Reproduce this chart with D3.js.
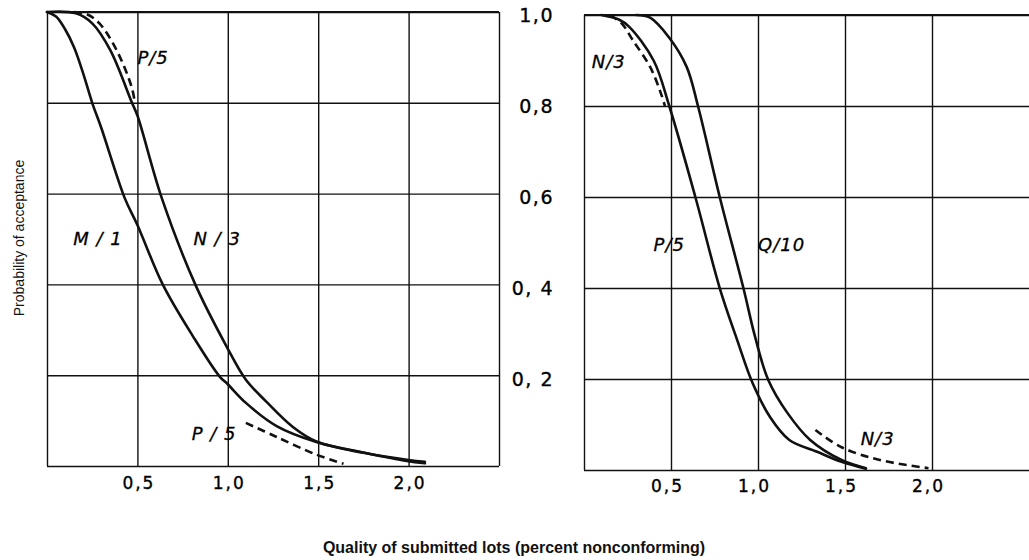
<!DOCTYPE html>
<html>
<head>
<meta charset="utf-8">
<script src="https://cdn.jsdelivr.net/npm/d3@7/dist/d3.min.js"></script>
<style>
  html, body { margin: 0; padding: 0; background: #fff; }
  svg { display: block; }
  .grid line { stroke: #111; stroke-width: 1.4; }
  .grid path { display: none; }
  .tick-lbl text { font-family: "DejaVu Sans", sans-serif; fill: #000; stroke: #000; stroke-width: 0.35px; }
  .curve { fill: none; stroke: #111; stroke-width: 2.6; stroke-linejoin: round; stroke-linecap: round; }
  .dashed { stroke-dasharray: 8 5; stroke-linecap: butt; }
  .clabel { font-family: "DejaVu Sans", sans-serif; font-style: italic; font-size: 18px; letter-spacing: 1px; fill: #000; stroke: #000; stroke-width: 0.3px; }
</style>
</head>
<body>
<svg id="chart" width="1029" height="560"></svg>
<script>
// Operating characteristic curves: probability of acceptance vs. percent nonconforming

// Shared tick values
const xGridLeft = [0, 0.5, 1.0, 1.5, 2.0, 2.5];
const xGridRight = [0, 0.5, 1.0, 1.5, 2.0];
const yGrid = [0, 0.2, 0.4, 0.6, 0.8, 1.0];
const xTickLabelsLeft = [0.5, 1.0, 1.5, 2.0];
const xTickLabelsRight = [0.5, 1.0, 1.5, 2.0];
const yTickValues = [0.2, 0.4, 0.6, 0.8, 1.0];
const yTickLabels = ["0, 2", "0, 4", "0,6", "0,8", "1,0"];

// Left panel curves: [percent nonconforming, probability of acceptance]
const leftM1 = [[0, 1.0], [0.05, 0.99], [0.1, 0.962], [0.15, 0.922], [0.2, 0.865], [0.25, 0.80], [0.3, 0.745],
  [0.43, 0.59], [0.5, 0.531], [0.64, 0.40], [0.81, 0.284], [0.955, 0.197], [1.0, 0.18], [1.1, 0.139],
  [1.27, 0.088], [1.49, 0.053], [1.77, 0.028], [1.99, 0.011], [2.09, 0.006]];
const leftN3 = [[0, 1.0], [0.16, 0.997], [0.25, 0.975], [0.35, 0.916], [0.47, 0.80], [0.5, 0.772],
  [0.635, 0.59], [0.82, 0.40], [0.995, 0.262], [1.1, 0.19], [1.21, 0.143], [1.36, 0.086],
  [1.49, 0.054], [1.75, 0.029], [2.0, 0.013], [2.09, 0.009]];
const leftP5Upper = [[0.15, 1.0], [0.22, 0.995], [0.29, 0.975], [0.385, 0.916], [0.468, 0.835], [0.486, 0.80]];
const leftP5Lower = [[1.1, 0.095], [1.27, 0.064], [1.49, 0.025], [1.64, 0.005]];

// Right panel curves
const rightP5 = [[0.1, 1.0], [0.2, 0.99], [0.26, 0.974], [0.4, 0.90], [0.49, 0.80], [0.64, 0.60],
  [0.78, 0.40], [0.88, 0.286], [0.97, 0.19], [1.07, 0.116], [1.18, 0.066], [1.34, 0.04],
  [1.48, 0.018], [1.62, 0.003]];
const rightQ10 = [[0.3, 1.0], [0.38, 0.994], [0.49, 0.95], [0.59, 0.886], [0.655, 0.80], [0.78, 0.60],
  [0.916, 0.40], [0.983, 0.293], [1.059, 0.198], [1.17, 0.125], [1.3, 0.066], [1.48, 0.022], [1.62, 0.004]];
const rightN3Upper = [[0.15, 1.0], [0.22, 0.98], [0.28, 0.945], [0.38, 0.886], [0.44, 0.83], [0.465, 0.80]];
const rightN3Lower = [[1.33, 0.088], [1.48, 0.05], [1.70, 0.022], [1.98, 0.004]];

// Curve labels
const leftLabels = [
  { text: "P/5", x: 0.5, y: 0.885 },
  { text: "M / 1", x: 0.145, y: 0.486 },
  { text: "N / 3", x: 0.81, y: 0.486 },
  { text: "P / 5", x: 0.8, y: 0.057 }
];
const rightLabels = [
  { text: "N/3", x: 0.045, y: 0.883 },
  { text: "P/5", x: 0.4, y: 0.482 },
  { text: "Q/10", x: 1.0, y: 0.482 },
  { text: "N/3", x: 1.59, y: 0.055 }
];

const W = 1029, H = 560;
const svg = d3.select("#chart");
svg.append("rect").attr("width", W).attr("height", H).attr("fill", "#fff");

const fmt = d => d3.format(".1f")(d).replace(".", ",");

function panel(cfg) {
  const x = d3.scaleLinear().domain(cfg.xDomain).range([cfg.left, cfg.right]);
  const y = d3.scaleLinear().domain([0, 1]).range([cfg.bottom, cfg.top]);
  const g = svg.append("g");

  // horizontal grid
  g.append("g").attr("class", "grid")
    .attr("transform", `translate(${cfg.left},0)`)
    .call(d3.axisLeft(y).tickValues(yGrid).tickSize(-(cfg.gridRight - cfg.left)).tickFormat(""));
  // vertical grid
  g.append("g").attr("class", "grid")
    .attr("transform", `translate(0,${cfg.bottom})`)
    .call(d3.axisBottom(x).tickValues(cfg.xGrid).tickSize(-(cfg.bottom - cfg.top)).tickFormat(""));
  // top border slightly heavier
  g.append("line").attr("x1", cfg.left).attr("x2", cfg.gridRight)
    .attr("y1", y(1)).attr("y2", y(1)).attr("stroke", "#111").attr("stroke-width", 2);

  // x tick labels
  const xl = g.append("g").attr("class", "tick-lbl")
    .attr("transform", `translate(${cfg.labelShift},${cfg.bottom})`)
    .call(d3.axisBottom(x).tickValues(cfg.xLabels).tickSize(0).tickPadding(cfg.labelPad).tickFormat(fmt));
  xl.select(".domain").remove();
  xl.selectAll("text").attr("font-size", 17).attr("letter-spacing", "2px").attr("dx", "1px");

  const line = d3.line().x(d => x(d[0])).y(d => y(d[1])).curve(d3.curveCatmullRom.alpha(0.5));
  cfg.solid.forEach(s => g.append("path").attr("class", "curve").attr("d", line(s)));
  cfg.dashed.forEach(s => g.append("path").attr("class", "curve dashed").attr("d", line(s)));

  g.selectAll(".clabel").data(cfg.labels).join("text")
    .attr("class", "clabel")
    .attr("x", d => x(d.x)).attr("y", d => y(d.y))
    .text(d => d.text);

  return { x, y };
}

panel({
  xDomain: [0, 2.5], left: 47, right: 499, gridRight: 499, top: 12, bottom: 466,
  xGrid: xGridLeft, xLabels: xTickLabelsLeft, labelShift: 0, labelPad: 11,
  solid: [leftM1, leftN3], dashed: [leftP5Upper, leftP5Lower], labels: leftLabels
});

const right = panel({
  xDomain: [0, 2.5], left: 584, right: 1019, gridRight: W, top: 15, bottom: 470,
  xGrid: xGridRight, xLabels: xTickLabelsRight, labelShift: -5, labelPad: 10,
  solid: [rightP5, rightQ10], dashed: [rightN3Upper, rightN3Lower], labels: rightLabels
});

// shared probability axis labels between the panels
const yl = svg.append("g").attr("class", "tick-lbl")
  .attr("transform", "translate(584,0)")
  .call(d3.axisLeft(right.y).tickValues(yTickValues).tickSize(0).tickPadding(30)
    .tickFormat((d, i) => yTickLabels[i]));
yl.select(".domain").remove();
yl.selectAll("text").attr("font-size", 19).attr("letter-spacing", "1.5px");

// axis titles
svg.append("text")
  .attr("transform", "translate(24,238) rotate(-90)")
  .attr("text-anchor", "middle")
  .attr("font-family", "Liberation Sans, Arial, sans-serif")
  .attr("font-size", 14).attr("fill", "#111")
  .text("Probability of acceptance");

svg.append("text")
  .attr("x", 514).attr("y", 553)
  .attr("text-anchor", "middle")
  .attr("font-family", "Liberation Sans, Arial, sans-serif")
  .attr("font-weight", "bold")
  .attr("font-size", 16).attr("fill", "#111")
  .text("Quality of submitted lots (percent nonconforming)");
</script>
</body>
</html>
